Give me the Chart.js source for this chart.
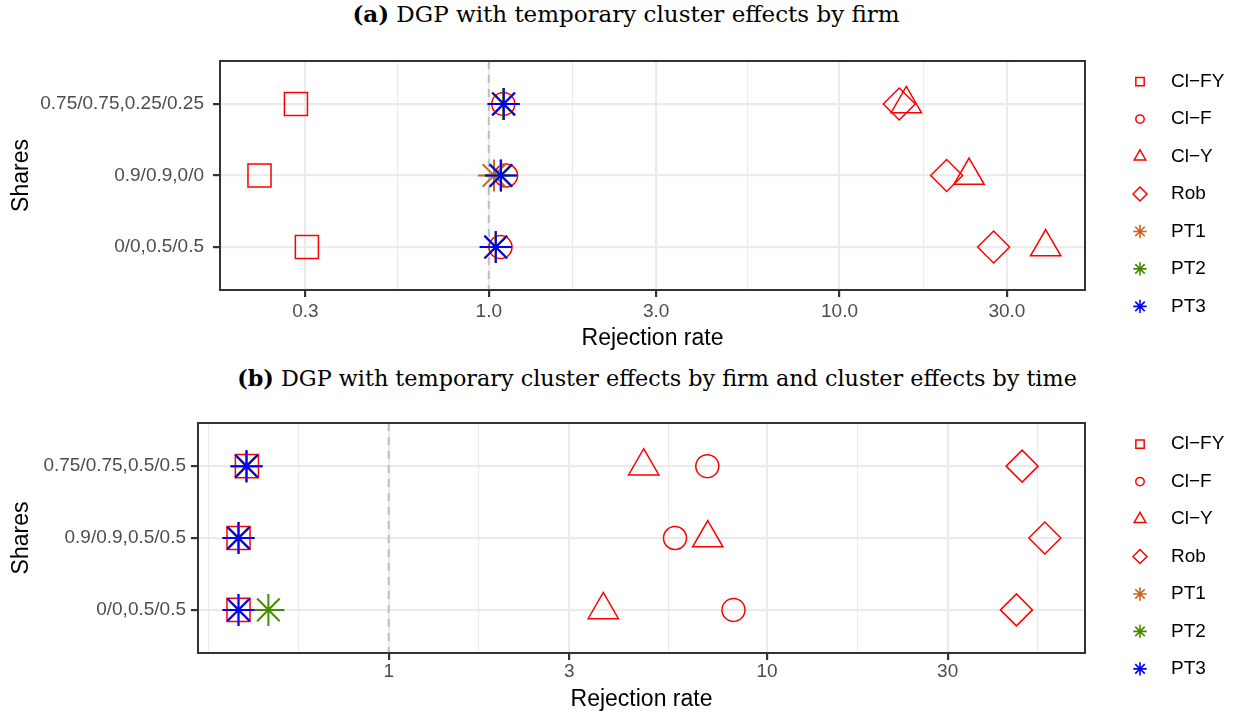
<!DOCTYPE html>
<html>
<head>
<meta charset="utf-8">
<script src="https://cdn.jsdelivr.net/npm/chart.js@4.4.1/dist/chart.umd.min.js"></script>
<style>
  body { margin: 0; background: #fff; width: 1238px; height: 714px; position: relative; overflow: hidden; }
  .cap { position: absolute; white-space: nowrap; font-family: "DejaVu Serif", serif; font-size: 23px; line-height: 26px; color: #000; transform: translateX(-50%); }
  .panel { position: absolute; left: 0; width: 1238px; }
</style>
</head>
<body>
<div class="cap" style="left:626px; top:1px"><b>(a)</b> DGP with temporary cluster effects by firm</div>
<div class="panel" style="top:40px; height:320px"><canvas id="chartA" width="1238" height="320"></canvas></div>
<div class="cap" style="left:657px; top:365px; font-size:22.3px"><b>(b)</b> DGP with temporary cluster effects by firm and cluster effects by time</div>
<div class="panel" style="top:400px; height:314px"><canvas id="chartB" width="1238" height="314"></canvas></div>
<script>
// methods, in legend order
const methodLabels = ["Cl\u2212FY", "Cl\u2212F", "Cl\u2212Y", "Rob", "PT1", "PT2", "PT3"];

// panel (a): rows bottom -> top
const sharesA = ["0/0,0.5/0.5", "0.9/0.9,0/0", "0.75/0.75,0.25/0.25"];
const clFY_A = [0.303, 0.222, 0.282];
const clF_A  = [1.08, 1.12, 1.10];
const clY_A  = [38.7, 23.4, 15.5];
const rob_A  = [27.5, 20.2, 14.8];
const pt1_A  = [1.047, 1.035, 1.10];
const pt2_A  = [1.047, 1.08, 1.10];
const pt3_A  = [1.047, 1.084, 1.104];
const xTicksA = [0.3, 1, 3, 10, 30];
const xLabelsA = ["0.3", "1.0", "3.0", "10.0", "30.0"];
const xRangeA = [0.1713, 50.1];

// panel (b): rows bottom -> top
const sharesB = ["0/0,0.5/0.5", "0.9/0.9,0.5/0.5", "0.75/0.75,0.5/0.5"];
const clFY_B = [0.401, 0.401, 0.422];
const clF_B  = [8.15, 5.71, 6.95];
const clY_B  = [3.69, 6.97, 4.72];
const rob_B  = [45.6, 54.2, 47.2];
const pt1_B  = [0.401, 0.401, 0.421];
const pt2_B  = [0.481, 0.401, 0.421];
const pt3_B  = [0.401, 0.401, 0.421];
const xTicksB = [1, 3, 10, 30];
const xLabelsB = ["1", "3", "10", "30"];
const xRangeB = [0.3134, 69.2];

const refRate = 1; // dashed reference line

const colors = ["#FF0000", "#FF0000", "#FF0000", "#FF0000", "#CD661D", "#458B00", "#0000FF"];
const shapes = ["rect", "circle", "triangle", "rectRot", "star", "star", "star"];
const plotRadius = { rect: 16.3, circle: 11.5, triangle: 17.5, rectRot: 16, star: 16 };
const keyRadius = { rect: 5.9, circle: 4.2, triangle: 6.7, rectRot: 7, star: 6.7 };
const FONT = '"Liberation Sans", Arial, Helvetica, sans-serif';

const refLinePlugin = {
  id: "refLine",
  beforeDatasetsDraw(chart) {
    const { ctx, chartArea } = chart;
    const x = chart.scales.x.getPixelForValue(refRate);
    ctx.save();
    ctx.setLineDash([8, 6]);
    ctx.strokeStyle = "#BEBEBE";
    ctx.lineWidth = 2;
    ctx.beginPath();
    ctx.moveTo(x, chartArea.top);
    ctx.lineTo(x, chartArea.bottom);
    ctx.stroke();
    ctx.restore();
  },
  afterDatasetsDraw(chart) {
    const { ctx, chartArea } = chart;
    ctx.save();
    ctx.strokeStyle = "#333333";
    ctx.lineWidth = 2;
    ctx.strokeRect(chartArea.left, chartArea.top, chartArea.right - chartArea.left, chartArea.bottom - chartArea.top);
    ctx.restore();
  }
};

// legend drawn at the right side, like ggplot's
const sideLegendPlugin = {
  id: "sideLegend",
  afterDraw(chart) {
    const { ctx, chartArea } = chart;
    const midY = (chartArea.top + chartArea.bottom) / 2 + 18.5;
    ctx.save();
    ctx.font = "19px " + FONT;
    ctx.textBaseline = "middle";
    ctx.textAlign = "left";
    methodLabels.forEach((lab, i) => {
      const y = midY + (i - 3) * 37.45;
      const x = chartArea.right + 55;
      ctx.strokeStyle = colors[i];
      ctx.fillStyle = "rgba(0,0,0,0)";
      const bw = shapes[i] === "star" ? 1.6 : 1.5;
      ctx.lineWidth = bw;
      Chart.helpers.drawPoint(ctx, { pointStyle: shapes[i], radius: keyRadius[shapes[i]], rotation: 0, borderWidth: bw }, x, y);
      ctx.fillStyle = "#000000";
      ctx.fillText(lab, chartArea.right + 86, y);
    });
    ctx.restore();
  }
};

function makePanel(id, shares, series, xRange, tickVals, tickLabels, geo) {
  // major + minor breaks (minor = midpoints in log space, like ggplot)
  const logs = tickVals.map(Math.log10);
  const n = logs.length;
  const ext = [logs[0] - (logs[1] - logs[0]), ...logs, logs[n - 1] + (logs[n - 1] - logs[n - 2])];
  const allTicks = tickVals.map((v, i) => ({ value: v, minor: false, lbl: tickLabels[i] }));
  const inRange = v => v > xRange[0] && v < xRange[1];
  [ext[0], ext[ext.length - 1]].forEach(l => { const v = Math.pow(10, l); if (inRange(v)) allTicks.push({ value: v, minor: true, lbl: "" }); });
  for (let i = 0; i < ext.length - 1; i++) {
    const v = Math.pow(10, (ext[i] + ext[i + 1]) / 2);
    if (inRange(v)) allTicks.push({ value: v, minor: true, lbl: "" });
  }
  allTicks.sort((a, b) => a.value - b.value);

  const datasets = series.map((vals, k) => ({
    label: methodLabels[k],
    data: vals.map((v, i) => ({ x: v, y: i + 1 })),
    pointStyle: shapes[k],
    pointRadius: plotRadius[shapes[k]],
    pointHoverRadius: plotRadius[shapes[k]],
    borderColor: colors[k],
    backgroundColor: "rgba(0,0,0,0)",
    pointBorderWidth: shapes[k] === "star" ? 2 : 1.5,
    showLine: false,
    order: series.length - k,
    clip: false
  }));

  return new Chart(document.getElementById(id), {
    type: "scatter",
    data: { datasets },
    options: {
      responsive: false,
      animation: false,
      events: [],
      layout: { padding: { left: 0, right: 1238 - 1085, top: geo.top, bottom: 0 } },
      plugins: { legend: { display: false }, tooltip: { enabled: false } },
      scales: {
        x: {
          type: "logarithmic",
          min: xRange[0],
          max: xRange[1],
          bounds: "data",
          afterBuildTicks: s => { s.ticks = allTicks.map(t => ({ value: t.value, minor: t.minor, lbl: t.lbl })); },
          afterFit: s => { s.height = geo.xAxisH; },
          ticks: {
            autoSkip: false, maxRotation: 0, minRotation: 0,
            padding: geo.xTickPad, color: "#4D4D4D", font: { family: FONT, size: 19 },
            callback: (v, i, ticks) => ticks[i].lbl
          },
          grid: {
            color: "#EBEBEB",
            lineWidth: c => (c.tick && c.tick.minor ? 1.1 : 2.2),
            tickColor: c => (c.tick && c.tick.minor ? "rgba(0,0,0,0)" : "#333333"),
            tickLength: 7,
            tickWidth: 2.2
          },
          border: { display: false },
          title: { display: true, text: "Rejection rate", color: "#000", font: { family: FONT, size: 23 }, padding: { top: 0, bottom: geo.xTitlePad } }
        },
        y: {
          type: "linear",
          min: 0.4,
          max: 3.6,
          bounds: "data",
          afterBuildTicks: s => { s.ticks = shares.map((_, i) => ({ value: i + 1 })); },
          afterFit: s => { s.width = geo.left; },
          ticks: {
            autoSkip: false, padding: geo.yTickPad, color: "#4D4D4D", font: { family: FONT, size: 19 },
            callback: v => shares[Math.round(v) - 1]
          },
          grid: { color: "#EBEBEB", lineWidth: 2.2, tickColor: "#333333", tickLength: 7, tickWidth: 2.2 },
          border: { display: false },
          title: { display: true, text: "Shares", color: "#000", font: { family: FONT, size: 23 }, padding: { top: 8.2, bottom: 0 } }
        }
      }
    },
    plugins: [refLinePlugin, sideLegendPlugin]
  });
}

makePanel("chartA", sharesA, [clFY_A, clF_A, clY_A, rob_A, pt1_A, pt2_A, pt3_A], xRangeA, xTicksA, xLabelsA,
  { top: 21, left: 220, xAxisH: 70, xTickPad: 3, xTitlePad: 7.4, yTickPad: 9 });
makePanel("chartB", sharesB, [clFY_B, clF_B, clY_B, rob_B, pt1_B, pt2_B, pt3_B], xRangeB, xTicksB, xLabelsB,
  { top: 23, left: 198, xAxisH: 61, xTickPad: 0, xTitlePad: 0.5, yTickPad: 5 });
</script>
</body>
</html>
